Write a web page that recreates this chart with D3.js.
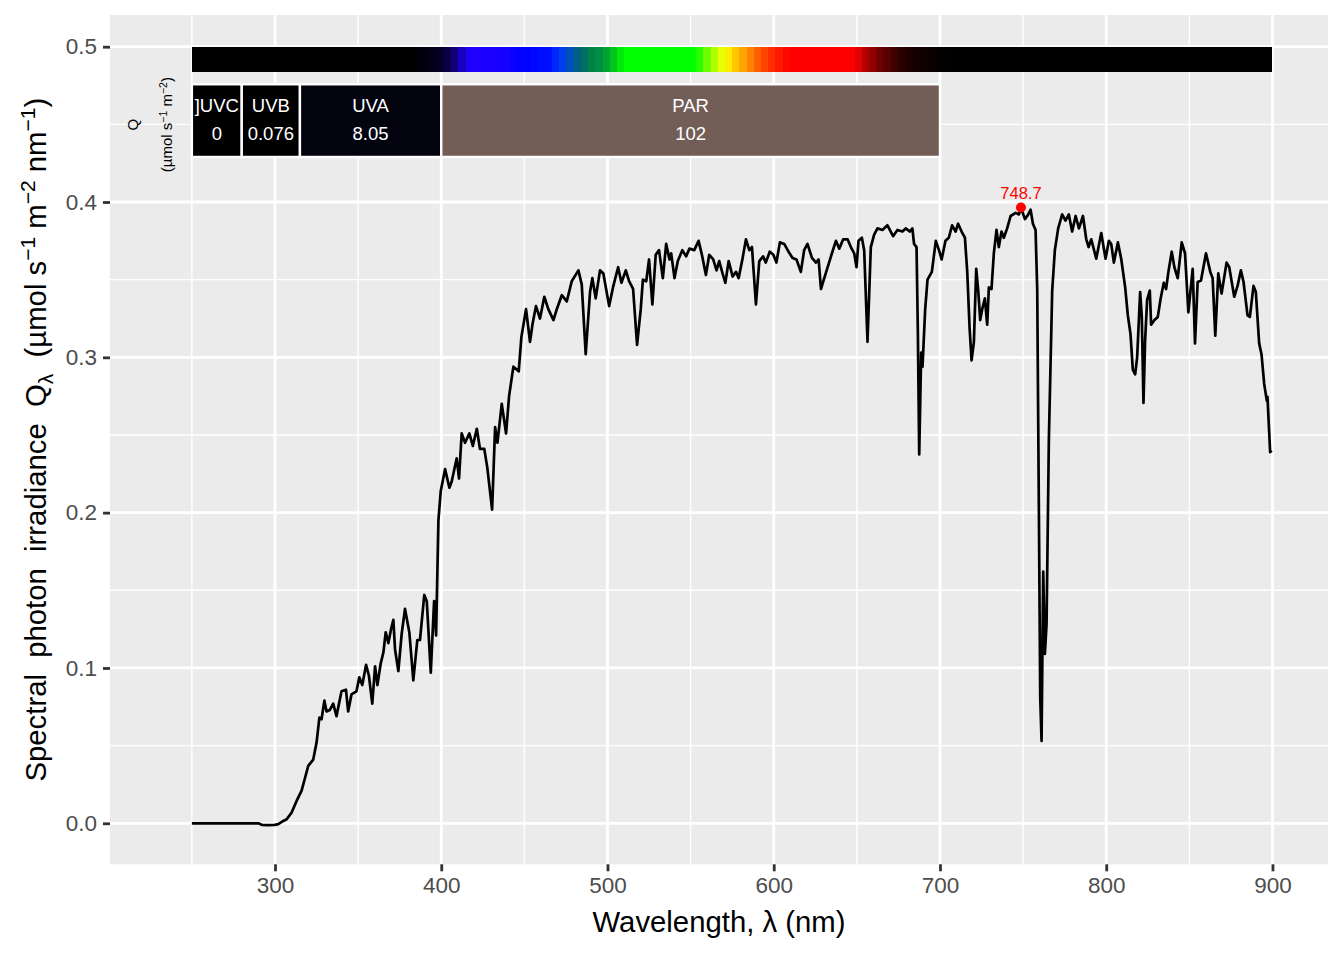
<!DOCTYPE html>
<html><head><meta charset="utf-8">
<script src="https://cdn.jsdelivr.net/npm/d3@7"></script>
<style>
body{margin:0;background:#fff}
svg{display:block}
text{font-family:"Liberation Sans",Arial,Helvetica,sans-serif}
</style>
</head><body>
<svg id="chart" width="1344" height="960"></svg>
<script>
// ---- spectrum data (nm, photon irradiance) ----
const wavelengths = [250,260,270,280,290,292,296,300,302,305,307,310,313,316,318,320,323,325,326.7,328,329.7,331,333,335,337,340,342.7,344,346,349,350.7,352.5,354.8,356.5,358.5,360.2,361.6,363.6,365.2,366.6,368.2,369.8,371.2,372.2,374.2,376.2,378.2,380.8,383.2,385.6,387.2,389.8,391.3,393.7,395.7,396.9,398.3,399.7,402.3,404.9,406.3,409.3,410.7,412.3,414.3,416.9,419,421.4,423.3,425.9,427.7,430.6,432.4,433.8,436.4,439,440.8,443.4,446.6,448.2,451,453.4,455,457,459.4,462,464.4,467.5,469.5,472.5,475.5,478.5,482.5,484.5,486.9,489.5,490.9,492.9,495.5,497.5,501,503.3,506.4,508.4,511,513,515.4,517.8,520,521.3,523.3,525,527,529,531,533.3,535.3,537.3,538.3,540.3,542.3,545,547.3,549.3,552.2,554.8,556.8,559.2,561.2,563.6,565.6,567.2,569.2,570.9,572.9,575.3,577.3,578.9,581.3,583.3,585.3,586.9,589.3,591.3,593.6,595.2,597.6,599.8,601.6,603.7,606.3,608.9,611.3,613.7,616.3,618.3,620.3,623,625.4,627,628.4,630.4,633,635,637.4,639.4,641.8,644.4,646.4,648.4,649.8,651,653,654.4,656.4,658.4,660.4,662.4,665.4,668.4,671.8,674.4,677.4,679.4,681.8,683.4,684.4,685.9,686.7,687.5,688.7,689.5,691.1,692.5,695.1,697.5,699.4,701,703.3,705.3,707.3,709.4,710.9,713,715,716.4,717.8,719,720.4,721.8,723,724.2,725.4,727,728.4,729.4,731,732.4,734,735.4,737,738.4,740.4,742.5,745.5,747.5,748.7,751.1,753.1,754.5,755.9,757.5,758.5,759.5,760.3,761.1,762.1,763.1,764.1,765.5,767.5,769.1,771.1,773.5,775.5,777.5,779.5,781.6,783.6,786,788,789.4,791,794,797,799.6,801.6,803,804.6,807,809,811.4,813,814.6,816,817.4,818.6,820.4,821.4,822.4,823.4,824.6,826.2,827,829,831,832.6,834.6,836,837.4,839.4,841,843,845.4,847.4,849.4,852,853.4,855,857,860,862.6,864,865.6,867.4,869.4,872.4,874,877,879,881,882.6,885,886.4,888.6,890,892,893.4,895,896.6,897,898.6,899.5];
const irradiance = [0,0,0,0,0,-0.001,-0.0012,-0.001,-0.0005,0.0015,0.0026,0.0069,0.0144,0.021,0.029,0.037,0.041,0.052,0.068,0.067,0.079,0.072,0.073,0.077,0.069,0.085,0.086,0.072,0.083,0.085,0.094,0.089,0.102,0.095,0.077,0.101,0.089,0.103,0.110,0.123,0.116,0.125,0.131,0.112,0.098,0.122,0.138,0.123,0.092,0.118,0.118,0.147,0.143,0.097,0.143,0.121,0.195,0.214,0.228,0.216,0.220,0.235,0.222,0.251,0.245,0.251,0.243,0.254,0.241,0.241,0.229,0.202,0.255,0.245,0.270,0.251,0.275,0.294,0.291,0.313,0.331,0.310,0.322,0.333,0.325,0.339,0.331,0.324,0.331,0.340,0.336,0.349,0.356,0.347,0.302,0.342,0.351,0.338,0.356,0.354,0.333,0.345,0.358,0.348,0.356,0.349,0.344,0.308,0.331,0.350,0.349,0.363,0.334,0.366,0.369,0.351,0.373,0.363,0.367,0.351,0.362,0.369,0.365,0.370,0.369,0.375,0.366,0.353,0.366,0.363,0.356,0.362,0.354,0.348,0.362,0.352,0.355,0.351,0.364,0.376,0.369,0.371,0.334,0.362,0.365,0.361,0.368,0.366,0.361,0.374,0.373,0.368,0.364,0.363,0.355,0.369,0.373,0.364,0.361,0.363,0.344,0.351,0.360,0.367,0.375,0.370,0.376,0.376,0.371,0.367,0.358,0.375,0.377,0.369,0.310,0.371,0.379,0.383,0.382,0.385,0.378,0.382,0.381,0.383,0.381,0.383,0.373,0.371,0.316,0.2375,0.303,0.294,0.331,0.350,0.355,0.375,0.369,0.363,0.375,0.377,0.385,0.381,0.386,0.381,0.377,0.355,0.319,0.298,0.310,0.357,0.343,0.324,0.331,0.338,0.321,0.345,0.344,0.367,0.382,0.371,0.381,0.377,0.383,0.391,0.393,0.392,0.3965,0.389,0.392,0.395,0.386,0.382,0.343,0.200,0.081,0.053,0.162,0.109,0.128,0.2475,0.343,0.369,0.383,0.392,0.388,0.392,0.381,0.391,0.383,0.391,0.376,0.371,0.376,0.3635,0.380,0.3635,0.375,0.373,0.361,0.374,0.3635,0.345,0.327,0.315,0.292,0.289,0.300,0.342,0.326,0.2706,0.311,0.337,0.343,0.321,0.324,0.326,0.337,0.348,0.344,0.355,0.368,0.358,0.351,0.374,0.367,0.329,0.357,0.309,0.3485,0.3495,0.367,0.355,0.351,0.314,0.354,0.341,0.361,0.358,0.339,0.346,0.356,0.3485,0.327,0.326,0.346,0.342,0.309,0.302,0.283,0.272,0.2745,0.239,0.240];

// ---- waveband boxes ----
const bandNames  = ["]UVC","UVB","UVA","PAR"];
const bandStart  = [250,280,315,400];
const bandEnd    = [280,315,400,700];
const bandValues = ["0","0.076","8.05","102"];
const bandFills  = ["#000000","#000000","#03020F","#735D57"];

// ---- colour guide stops (nm -> colour) ----
const guideStopsNm  = [250,380,392,400,405,410,415,420,440,449,466,470,475,480,485,490,495,500,505,510,553,557,562,567,571,575,580,585,590,595,600,605,610,649,653,658,662,666,671,675,680,690,700,710,900];
const guideStopsCol = ["#000000","#000000","#020010","#06002A","#0C0050","#150090","#1C00F0","#1E00FF","#1500FF","#0000FF","#0010FF","#0030FF","#0045E0","#005A90","#006A70","#007F45","#009040","#00A830","#00D018","#00FF00","#00FF00","#40FF00","#90FF00","#D8FF00","#FFFF00","#FFD800","#FFB000","#FF8800","#FF6000","#FF4000","#FF2800","#FF1000","#FF0000","#FF0000","#C00000","#A00000","#800000","#600000","#480000","#300000","#200000","#100000","#050000","#000000","#000000"];
const guideRange = [250, 900];
const guideSteps = 150;

// ---- peak ----
const peakWl = [748.7];
const peakVal = [0.3965];
const peakLabel = ["748.7"];

// ---- axes ticks ----
const xMajor = [300,400,500,600,700,800,900];
const xMinor = [250,350,450,550,650,750,850];
const yMajor = [0,0.1,0.2,0.3,0.4,0.5];
const yMinor = [0.05,0.15,0.25,0.35,0.45];

const svg = d3.select("#chart");
const L = 110, R = 1328, T = 15, B = 864.3;
const x = d3.scaleLinear().domain([200.75, 933.4]).range([L, R]);
const y = d3.scaleLinear().domain([-0.0264, 0.5204]).range([B, T]);

svg.append("rect").attr("x", L).attr("y", T).attr("width", R - L).attr("height", B - T).attr("fill", "#EBEBEB");

const grid = svg.append("g");
grid.selectAll(".xmin").data(xMinor).join("line")
  .attr("x1", d => x(d)).attr("x2", d => x(d)).attr("y1", T).attr("y2", B)
  .attr("stroke", "#fff").attr("stroke-width", 1.4);
grid.selectAll(".ymin").data(yMinor).join("line")
  .attr("y1", d => y(d)).attr("y2", d => y(d)).attr("x1", L).attr("x2", R)
  .attr("stroke", "#fff").attr("stroke-width", 1.4);
grid.selectAll(".xmaj").data(xMajor).join("line")
  .attr("x1", d => x(d)).attr("x2", d => x(d)).attr("y1", T).attr("y2", B)
  .attr("stroke", "#fff").attr("stroke-width", 2.8);
grid.selectAll(".ymaj").data(yMajor).join("line")
  .attr("y1", d => y(d)).attr("y2", d => y(d)).attr("x1", L).attr("x2", R)
  .attr("stroke", "#fff").attr("stroke-width", 2.8);

// colour guide bar
const colScale = d3.scaleLinear().domain(guideStopsNm).range(guideStopsCol).interpolate(d3.interpolateRgb);
const step = (guideRange[1] - guideRange[0]) / guideSteps;
const segs = d3.range(guideSteps).map(i => guideRange[0] + i * step);
svg.append("g").selectAll("rect").data(segs).join("rect")
  .attr("x", d => x(d)).attr("width", (d, i) => x(d + step) - x(d) + (i < guideSteps - 1 ? 0.6 : 0))
  .attr("y", y(0.5)).attr("height", y(0.4838) - y(0.5))
  .attr("fill", d => colScale(d + step / 2)).attr("shape-rendering", "crispEdges");

// waveband boxes
const bands = bandNames.map((n, i) => ({n, s: bandStart[i], e: bandEnd[i], v: bandValues[i], f: bandFills[i]}));
const bg = svg.append("g");
bg.selectAll("rect").data(bands).join("rect")
  .attr("x", d => x(d.s)).attr("width", d => x(d.e) - x(d.s))
  .attr("y", y(0.4758)).attr("height", y(0.4290) - y(0.4758))
  .attr("fill", d => d.f).attr("stroke", "#fff").attr("stroke-width", 2.4);
bg.selectAll(".nm").data(bands).join("text")
  .attr("x", d => x((d.s + d.e) / 2)).attr("y", y(0.4622)).attr("dy", "0.36em")
  .attr("text-anchor", "middle").attr("fill", "#fff").attr("font-size", 18.5).text(d => d.n);
bg.selectAll(".vl").data(bands).join("text")
  .attr("x", d => x((d.s + d.e) / 2)).attr("y", y(0.4442)).attr("dy", "0.36em")
  .attr("text-anchor", "middle").attr("fill", "#fff").attr("font-size", 18.5).text(d => d.v);

// Q label
const qg = svg.append("g");
qg.append("text").attr("transform", `translate(${x(214.5)},${y(0.4498)}) rotate(-90)`)
  .attr("text-anchor", "middle").attr("dy", "0.36em").attr("font-size", 15).attr("fill", "#000").text("Q");
const qt = qg.append("text").attr("transform", `translate(${x(235)},${y(0.4498)}) rotate(-90)`)
  .attr("text-anchor", "middle").attr("dy", "0.36em").attr("font-size", 15).attr("fill", "#000");
qt.append("tspan").text("(µmol s");
qt.append("tspan").attr("font-size", 10.5).attr("dy", -5).text("−1");
qt.append("tspan").attr("dy", 5).text(" m");
qt.append("tspan").attr("font-size", 10.5).attr("dy", -5).text("−2");
qt.append("tspan").attr("dy", 5).text(")");

// spectrum line
const pts = wavelengths.map((w, i) => [w, irradiance[i]]);
svg.append("path").datum(pts)
  .attr("d", d3.line().x(d => x(d[0])).y(d => y(d[1])))
  .attr("fill", "none").attr("stroke", "#000").attr("stroke-width", 2.7).attr("stroke-linejoin", "round");

// peak
svg.selectAll(".pk").data(peakWl).join("circle")
  .attr("cx", d => x(d)).attr("cy", (d, i) => y(peakVal[i])).attr("r", 5).attr("fill", "#FF0000");
svg.selectAll(".pkl").data(peakWl).join("text")
  .attr("x", d => x(d)).attr("y", (d, i) => y(peakVal[i]) - 8)
  .attr("text-anchor", "middle").attr("font-size", 16.5).attr("fill", "#FF0000").text((d, i) => peakLabel[i]);

// axes
const xAxis = svg.append("g").attr("transform", `translate(0,${B})`)
  .call(d3.axisBottom(x).tickValues(xMajor).tickSize(7).tickPadding(6).tickFormat(d3.format("d")));
const yAxis = svg.append("g").attr("transform", `translate(${L},0)`)
  .call(d3.axisLeft(y).tickValues(yMajor).tickSize(7).tickPadding(6).tickFormat(d3.format(".1f")));
[xAxis, yAxis].forEach(a => {
  a.select(".domain").remove();
  a.selectAll(".tick line").attr("stroke", "#333333").attr("stroke-width", 2.8);
  a.selectAll(".tick text").attr("fill", "#4D4D4D").attr("font-size", 22.5)
    .attr("font-family", '"Liberation Sans",Arial,sans-serif');
});

// axis titles
svg.append("text").attr("x", (L + R) / 2).attr("y", 932).attr("text-anchor", "middle")
  .attr("font-size", 29.3).attr("fill", "#000").text("Wavelength, λ (nm)");

const yt = svg.append("text").attr("transform", `translate(46,${(T + B) / 2}) rotate(-90)`)
  .attr("text-anchor", "middle").attr("font-size", 29.3).attr("fill", "#000")
  .style("white-space", "pre");
yt.append("tspan").text("Spectral  photon  irradiance  Q");
yt.append("tspan").attr("font-size", 21).attr("dy", 7).text("λ");
yt.append("tspan").attr("dy", -7).text("  (µmol s");
yt.append("tspan").attr("font-size", 21).attr("dy", -11).text("−1");
yt.append("tspan").attr("dy", 11).text(" m");
yt.append("tspan").attr("font-size", 21).attr("dy", -11).text("−2");
yt.append("tspan").attr("dy", 11).text(" nm");
yt.append("tspan").attr("font-size", 21).attr("dy", -11).text("−1");
yt.append("tspan").attr("dy", 11).text(")");
</script>
</body></html>
